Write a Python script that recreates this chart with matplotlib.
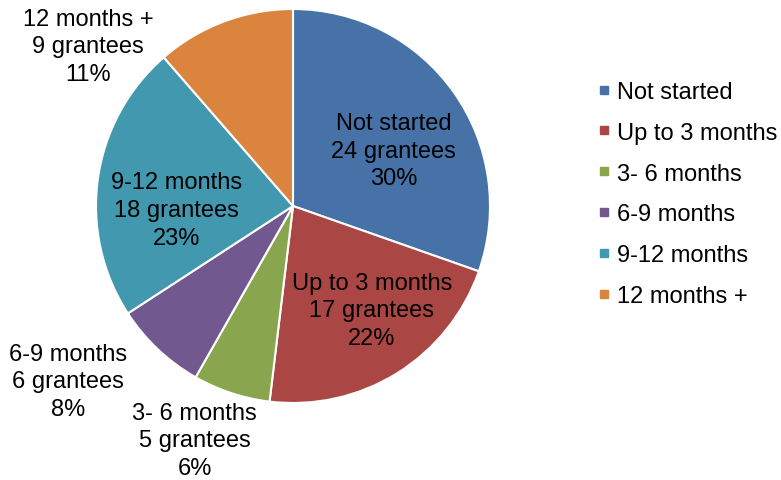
import matplotlib.pyplot as plt
from matplotlib.lines import Line2D

plt.rcParams['font.family'] = ['Liberation Sans', 'DejaVu Sans']

categories = ['Not started', 'Up to 3 months', '3- 6 months', '6-9 months', '9-12 months', '12 months +']
grantees = [24, 17, 5, 6, 18, 9]
colors = ['#4672A8', '#AA4643', '#89A54E', '#71588F', '#4198AF', '#DB843D']
# label centres in data units (pie radius = 1)
label_pos = [(0.51, 0.28), (0.40, -0.53), (-0.50, -1.19), (-1.14, -0.89), (-0.59, -0.02), (-1.04, 0.81)]

total = sum(grantees)

fig = plt.figure(figsize=(7.81, 4.81), dpi=100)
ax = fig.add_axes([(293 - 197) / 781, (481 - 207 - 197) / 481, 394 / 781, 394 / 481])

wedges, _ = ax.pie(grantees, colors=colors, startangle=90, counterclock=False, radius=1,
                   wedgeprops=dict(edgecolor='white', linewidth=1.5))
ax.set_xlim(-1, 1)
ax.set_ylim(-1, 1)
ax.set_aspect('equal')
ax.axis('off')
for w in wedges:
    w.set_clip_on(False)

for name, n, (x, y) in zip(categories, grantees, label_pos):
    pct = round(100 * n / total)
    ax.text(x, y, f'{name}\n{n} grantees\n{pct}%', ha='center', va='center',
            fontsize=17, linespacing=1.33, clip_on=False)

handles = [Line2D([], [], marker='s', linestyle='none', markersize=6, color=c) for c in colors]
fig.legend(handles, categories, loc='center left', bbox_to_anchor=(598 / 781, 1 - 195 / 481),
           frameon=False, fontsize=17, borderpad=0, borderaxespad=0, handlelength=0.5,
           handletextpad=0.3, labelspacing=0.8)

fig.savefig('out.png', dpi=100)
